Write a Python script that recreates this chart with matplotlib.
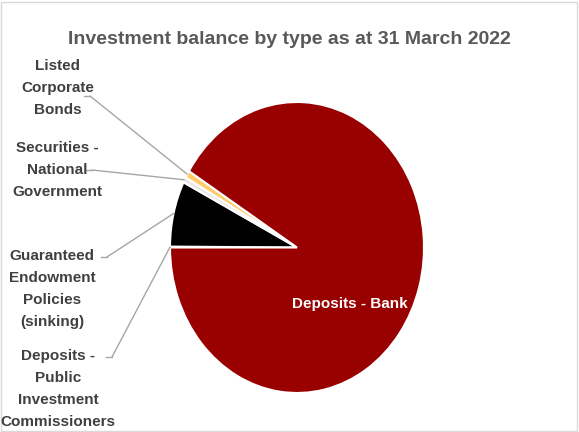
import numpy as np
import matplotlib
matplotlib.use("Agg")
import matplotlib.pyplot as plt
import matplotlib.patches as patches
from matplotlib.lines import Line2D

plt.rcParams['font.family'] = ['Liberation Sans Narrow', 'Liberation Sans', 'DejaVu Sans']

# investment balance shares (%)
categories = ["Deposits -\nPublic\nInvestment\nCommissioners",
              "Guaranteed\nEndowment\nPolicies\n(sinking)",
              "Securities -\nNational\nGovernment",
              "Listed\nCorporate\nBonds",
              "Deposits - Bank"]
shares = [0.1, 7.3, 0.6, 0.8, 91.2]
colors = ["#BFBFBF", "#000000", "#E8E8E8", "#FFCC66", "#990000"]

W, H = 579, 432
fig = plt.figure(figsize=(W / 100, H / 100), dpi=100)

# chart area frame
fig.add_artist(patches.Rectangle((0.002, 0.002), 0.994, 0.994, transform=fig.transFigure,
                                 fill=False, edgecolor="#D9D9D9", lw=1))

ax = fig.add_axes([(297 - 127) / W, (432 - 393) / H, 254 / W, 291 / H])
wedges, _ = ax.pie(shares, colors=colors, startangle=180, counterclock=False,
                   wedgeprops=dict(edgecolor="white", linewidth=1.5))
ax.set_aspect("auto")
ax.set_xlim(-1, 1)
ax.set_ylim(-1, 1)

fig.text(0.5, 1 - 39 / H, "Investment balance by type as at 31 March 2022",
         ha="center", va="center", fontsize=14, fontweight="bold", color="#595959")

# outside labels: (text centre x, centre y, leader start x, y) in pixels from top-left
label_pos = [(58, 389, 106, 357),
             (52, 289, 101, 257),
             (57, 170, 86, 170),
             (58, 88, 84, 96)]

for i in range(4):
    tx, ty, lx, ly = label_pos[i]
    fig.text(tx / W, 1 - ty / H, categories[i], ha="center", va="center",
             fontsize=11, fontweight="bold", color="#404040", linespacing=1.7)
    w = wedges[i]
    mid = np.deg2rad((w.theta1 + w.theta2) / 2)
    px, py = np.cos(mid), np.sin(mid)
    fig.add_artist(Line2D([lx / W, (lx + 6) / W], [1 - ly / H, 1 - ly / H],
                          transform=fig.transFigure, color="#A6A6A6", lw=1))
    ax.annotate("", xy=(px, py), xycoords="data",
                xytext=((lx + 6) / W, 1 - ly / H), textcoords="figure fraction",
                arrowprops=dict(arrowstyle="-", color="#A6A6A6", lw=1,
                                shrinkA=0, shrinkB=0))

ax.text(0.417, -0.39, categories[4], ha="center", va="center",
        fontsize=11, fontweight="bold", color="white")

fig.savefig("out.png", dpi=100)
